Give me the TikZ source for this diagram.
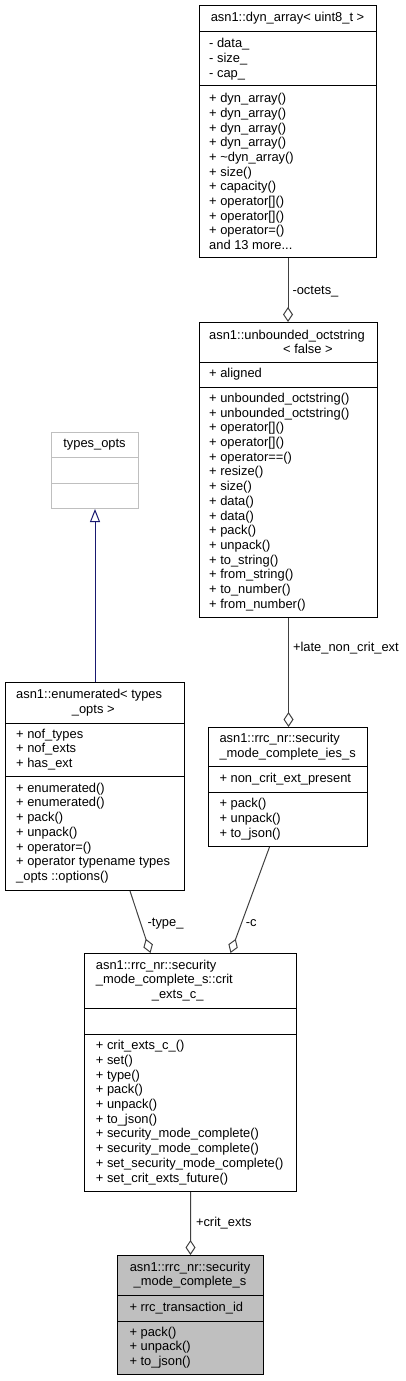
\documentclass[tikz,border=0pt]{standalone}
\usepackage{fontspec}
\setmainfont{Liberation Sans}
\usetikzlibrary{arrows.meta}
\definecolor{edgegray}{HTML}{404040}
\definecolor{inheritblue}{HTML}{191970}
\definecolor{boxgray}{HTML}{BFBFBF}

\begin{document}
\begin{tikzpicture}[
    x=1bp, y=-1bp,
    every node/.style={font=\fontsize{12.9bp}{14.7bp}\selectfont},
    classbox/.style={draw, line width=1bp, inner sep=0pt, anchor=north west},
    member/.style={anchor=west, align=left, inner sep=0pt},
    classtitle/.style={align=center, inner sep=0pt},
    aggr/.style={draw=edgegray, line width=1bp, -{Diamond[open,length=15bp,width=10bp]}},
    inherit/.style={draw=inheritblue, line width=1bp, -{Triangle[open,length=13bp,width=10bp]}},
    lbl/.style={anchor=west, inner sep=0pt}
]
\useasboundingbox (0,0) rectangle (405,1381);

% asn1::dyn_array< uint8_t >
\node[classbox, minimum width=177bp, minimum height=252bp] (dyn) at (199,5) {};
\draw[line width=1bp] ([yshift=-27bp]dyn.north west) -- ([yshift=-27bp]dyn.north east);
\draw[line width=1bp] ([yshift=-81bp]dyn.north west) -- ([yshift=-81bp]dyn.north east);
\node[classtitle] (dyntitle) at (287.5,18.5) {asn1::dyn\_array< uint8\_t >};
\node[member] (dynattr) at (209,59) {- data\_\\- size\_\\- cap\_};
\node[member] (dynops) at (209,171.5) {+ dyn\_array()\\+ dyn\_array()\\+ dyn\_array()\\+ dyn\_array()\\+ \textasciitilde dyn\_array()\\+ size()\\+ capacity()\\+ operator[]()\\+ operator[]()\\+ operator=()\\and 13 more...};

% asn1::unbounded_octstring< false >
\node[classbox, minimum width=178bp, minimum height=295bp] (octstr) at (199,322) {};
\draw[line width=1bp] ([yshift=-40bp]octstr.north west) -- ([yshift=-40bp]octstr.north east);
\draw[line width=1bp] ([yshift=-65bp]octstr.north west) -- ([yshift=-65bp]octstr.north east);
\node[member] (octtitle) at (209,342) {asn1::unbounded\_octstring\\\hspace*{74bp}< false >};
\node[member] (octattr) at (209,374.5) {+ aligned};
\node[member] (octops) at (209,502) {+ unbounded\_octstring()\\+ unbounded\_octstring()\\+ operator[]()\\+ operator[]()\\+ operator==()\\+ resize()\\+ size()\\+ data()\\+ data()\\+ pack()\\+ unpack()\\+ to\_string()\\+ from\_string()\\+ to\_number()\\+ from\_number()};

% types_opts
\node[classbox, draw=boxgray, minimum width=87bp, minimum height=76bp] (types) at (51,432) {};
\draw[boxgray, line width=1bp] ([yshift=-25bp]types.north west) -- ([yshift=-25bp]types.north east);
\draw[boxgray, line width=1bp] ([yshift=-51bp]types.north west) -- ([yshift=-51bp]types.north east);
\node[classtitle] (typestitle) at (94.5,444.5) {types\_opts};

% asn1::enumerated< types_opts >
\node[classbox, minimum width=179bp, minimum height=208bp] (enum) at (5,682) {};
\draw[line width=1bp] ([yshift=-41bp]enum.north west) -- ([yshift=-41bp]enum.north east);
\draw[line width=1bp] ([yshift=-94bp]enum.north west) -- ([yshift=-94bp]enum.north east);
\node[member] (enumtitle) at (16,702.5) {asn1::enumerated< types\\\hspace*{55.7bp}\_opts >};
\node[member] (enumattr) at (16,749.5) {+ nof\_types\\+ nof\_exts\\+ has\_ext};
\node[member] (enumops) at (16,833) {+ enumerated()\\+ enumerated()\\+ pack()\\+ unpack()\\+ operator=()\\+ operator typename types\\\_opts ::options()};

% asn1::rrc_nr::security_mode_complete_ies_s
\node[classbox, minimum width=159bp, minimum height=119bp] (ies) at (208,727) {};
\draw[line width=1bp] ([yshift=-39bp]ies.north west) -- ([yshift=-39bp]ies.north east);
\draw[line width=1bp] ([yshift=-65bp]ies.north west) -- ([yshift=-65bp]ies.north east);
\node[member] (iestitle) at (219.3,746.5) {asn1::rrc\_nr::security\\\_mode\_complete\_ies\_s};
\node[member] (iesattr) at (219.3,779) {+ non\_crit\_ext\_present};
\node[member] (iesops) at (219.3,819) {+ pack()\\+ unpack()\\+ to\_json()};

% asn1::rrc_nr::security_mode_complete_s::crit_exts_c_
\node[classbox, minimum width=212bp, minimum height=238bp] (crit) at (84,953) {};
\draw[line width=1bp] ([yshift=-55bp]crit.north west) -- ([yshift=-55bp]crit.north east);
\draw[line width=1bp] ([yshift=-81bp]crit.north west) -- ([yshift=-81bp]crit.north east);
\node[member] (crittitle) at (95.7,980.5) {asn1::rrc\_nr::security\\\_mode\_complete\_s::crit\\\hspace*{56bp}\_exts\_c\_};
\node[member] (critops) at (95.7,1112.5) {+ crit\_exts\_c\_()\\+ set()\\+ type()\\+ pack()\\+ unpack()\\+ to\_json()\\+ security\_mode\_complete()\\+ security\_mode\_complete()\\+ set\_security\_mode\_complete()\\+ set\_crit\_exts\_future()};

% asn1::rrc_nr::security_mode_complete_s
\node[classbox, fill=boxgray, minimum width=146bp, minimum height=119bp] (main) at (117,1255) {};
\draw[line width=1bp] ([yshift=-40bp]main.north west) -- ([yshift=-40bp]main.north east);
\draw[line width=1bp] ([yshift=-66bp]main.north west) -- ([yshift=-66bp]main.north east);
\node[classtitle] (maintitle) at (190,1275) {asn1::rrc\_nr::security\\\_mode\_complete\_s};
\node[member] (mainattr) at (129.3,1308) {+ rrc\_transaction\_id};
\node[member] (mainops) at (129.3,1347.5) {+ pack()\\+ unpack()\\+ to\_json()};

% relations
\draw[aggr] (dyn.south) -- node[lbl, pos=0.53, xshift=4bp] (lbloctets) {-octets\_} (dyn.south |- octstr.north);
\draw[aggr] (octstr.south) -- node[lbl, pos=0.28, xshift=4bp] (lbllate) {+late\_non\_crit\_ext} (octstr.south |- ies.north);
\draw[inherit] (enum.north) -- (enum.north |- types.south);
\draw[aggr] ([xshift=-18.5bp]ies.south) -- node[lbl, pos=0.72, xshift=4bp] (lblc) {-c} ([xshift=40bp]crit.north);
\draw[aggr] ([xshift=35bp]enum.south) -- node[lbl, pos=0.52, xshift=6.5bp] (lbltype) {-type\_} ([xshift=-40bp]crit.north);
\draw[aggr] (crit.south) -- node[lbl, pos=0.5, xshift=5bp] (lblcrit) {+crit\_exts} (main.north);
\end{tikzpicture}
\end{document}
